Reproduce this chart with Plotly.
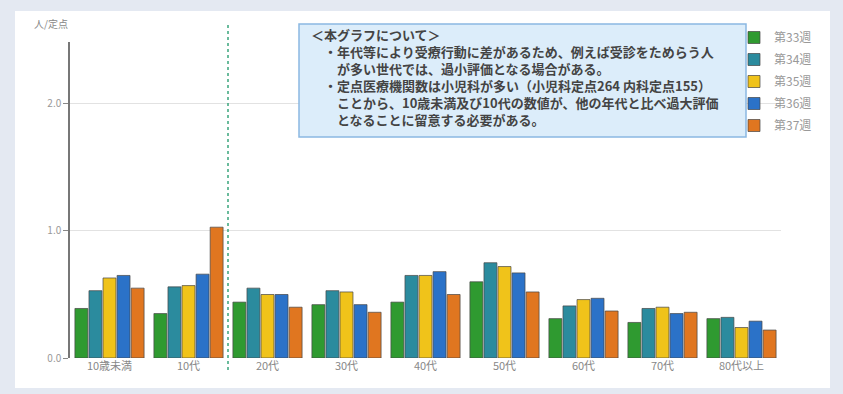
import plotly.graph_objects as go

# Age bands and weekly values (patients per sentinel site)
age_groups = ["10歳未満", "10代", "20代", "30代", "40代", "50代", "60代", "70代", "80代以上"]
week_names = ["第33週", "第34週", "第35週", "第36週", "第37週"]
week33 = [0.39, 0.35, 0.44, 0.42, 0.44, 0.60, 0.31, 0.28, 0.31]
week34 = [0.53, 0.56, 0.55, 0.53, 0.65, 0.75, 0.41, 0.39, 0.32]
week35 = [0.63, 0.57, 0.50, 0.52, 0.65, 0.72, 0.46, 0.40, 0.24]
week36 = [0.65, 0.66, 0.50, 0.42, 0.68, 0.67, 0.47, 0.35, 0.29]
week37 = [0.55, 1.03, 0.40, 0.36, 0.50, 0.52, 0.37, 0.36, 0.22]
series = [week33, week34, week35, week36, week37]
colors = ["#2f9a30", "#2b8b9e", "#f0c31a", "#2b72c8", "#e07620"]

note_lines = [
    "＜本グラフについて＞",
    "　・年代等により受療行動に差があるため、例えば受診をためらう人",
    "　　が多い世代では、過小評価となる場合がある。",
    "　・定点医療機関数は小児科が多い（小児科定点264 内科定点155）",
    "　　ことから、10歳未満及び10代の数値が、他の年代と比べ過大評価",
    "　　となることに留意する必要がある。",
]

W, H = 843, 394
L, R, T, B = 70, 62, 42, 36
PW, PH = W - L - R, H - T - B


def px(x):
    return (x - L) / PW


def py(y):
    return (H - B - y) / PH


fig = go.Figure()
for name, vals, col in zip(week_names, series, colors):
    fig.add_trace(go.Bar(
        x=age_groups, y=vals, name=name, legendgroup=name,
        marker=dict(color=col, line=dict(color="rgba(70,70,70,0.7)", width=1)),
    ))

shapes = [
    # white card on the tinted page
    dict(type="rect", xref="paper", yref="paper",
         x0=px(15), x1=px(830), y0=py(388), y1=py(11),
         fillcolor="white", line=dict(width=0), layer="below"),
    # divider between child age bands and adults
    dict(type="line", xref="x", yref="paper", x0=1.5, x1=1.5,
         y0=py(370), y1=py(25),
         line=dict(color="#3aa57c", width=1.5, dash="dot"), layer="above"),
    # note box
    dict(type="rect", xref="paper", yref="paper",
         x0=px(299), x1=px(746), y0=py(137), y1=py(24),
         fillcolor="#dcedfa", line=dict(color="#8bb8e2", width=1.5), layer="above"),
]

annotations = [
    dict(text="人/定点", xref="paper", yref="paper", x=px(32), y=py(24),
         xanchor="left", yanchor="middle", showarrow=False,
         font=dict(size=10, color="#888888")),
    dict(text="<b>" + "<br>".join(note_lines) + "</b>", xref="paper", yref="paper",
         x=px(309), y=py(77), xanchor="left", yanchor="middle", align="left",
         showarrow=False,
         font=dict(size=13, color="#444444", family="Noto Sans CJK JP")),
]

fig.update_layout(
    width=W, height=H,
    margin=dict(l=L, r=R, t=T, b=B),
    paper_bgcolor="#e4e9f2",
    plot_bgcolor="white",
    font=dict(family="Noto Sans CJK JP", color="#777777"),
    barmode="group", bargap=0.11, bargroupgap=0.08,
    showlegend=True,
    legend=dict(x=px(734), y=py(23), xanchor="left", yanchor="top",
                bgcolor="rgba(0,0,0,0)", font=dict(size=12, color="#999999"),
                tracegroupgap=3),
    shapes=shapes,
    annotations=annotations,
)
fig.update_xaxes(showline=False, showgrid=False, ticks="",
                 tickfont=dict(size=11, color="#888888"))
fig.update_yaxes(range=[0, 2.488], tickvals=[0, 1, 2], ticktext=["0.0", "1.0", "2.0"],
                 showline=True, linecolor="#777777", linewidth=1.5,
                 ticks="outside", ticklen=5, tickcolor="#888888",
                 showgrid=True, gridcolor="#e2e2e2", gridwidth=1, zeroline=False,
                 tickfont=dict(size=10, color="#999999"))

fig.write_html("out.html")
